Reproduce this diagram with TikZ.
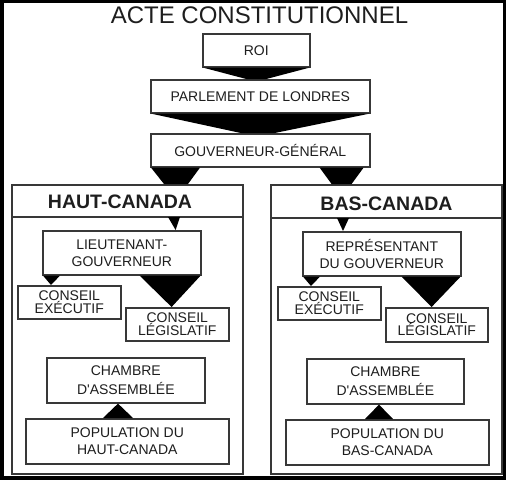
\documentclass[tikz,border=0pt]{standalone}
\usepackage{fontspec}
\setmainfont{Liberation Sans}
\usetikzlibrary{calc}
\definecolor{linec}{HTML}{383838}
\definecolor{txtc}{HTML}{1E1E1E}
\begin{document}
\begin{tikzpicture}[x=1pt,y=-1pt,
 box/.style={draw=linec, line width=1.6pt, fill=white, inner sep=0pt, align=center, text=txtc, font=\fontsize{14}{17}\selectfont, anchor=north west},
 tight/.style={font=\fontsize{14}{12.5}\selectfont},
 loose/.style={font=\fontsize{14}{19}\selectfont},
 tri/.style={fill=black},
 frame/.style={draw=linec, line width=1.6pt, anchor=north west, inner sep=0pt},
 divline/.style={draw=linec, line width=1.6pt},
 head/.style={text=txtc, font=\bfseries\fontsize{19.5}{22}\selectfont},
]
\useasboundingbox (0,0) rectangle (506,480);
\fill[black] (0,0) rectangle (506,480);
\fill[white] (4,3) rectangle (503,476);

\node[text=txtc, font=\fontsize{24}{28}\selectfont] (title) at (259.5,15.5) {ACTE CONSTITUTIONNEL};

\node[box, minimum width=107, minimum height=33] (roi) at (202,33) {ROI};
\node[box, minimum width=219, minimum height=33] (parl) at (150,79) {PARLEMENT DE LONDRES};
\node[box, minimum width=219, minimum height=33] (gg) at (150,133) {GOUVERNEUR-GÉNÉRAL};

% Haut-Canada
\node[frame, minimum width=231, minimum height=289] (hc) at (11,184) {};
\coordinate (hcdl) at (11,217);
\coordinate (hcdr) at (242,217);
\draw[divline] (hcdl) -- (hcdr);
\node[head] (hct) at (120,201.5) {HAUT-CANADA};

\node[box, minimum width=158, minimum height=44] (lt) at (42,230) {LIEUTENANT-\\GOUVERNEUR};
\node[box, tight, minimum width=103, minimum height=33] (ce) at (17,285) {CONSEIL\\EXÉCUTIF};
\node[box, tight, minimum width=103, minimum height=33] (cl) at (125,307) {CONSEIL\\LÉGISLATIF};
\node[box, loose, minimum width=158, minimum height=45] (ch) at (46,357) {CHAMBRE\\D\textquotesingle ASSEMBLÉE};
\node[box, minimum width=203, minimum height=45] (pop) at (25,418) {POPULATION DU\\HAUT-CANADA};

% Bas-Canada
\node[frame, minimum width=231, minimum height=289] (bc) at (270,184) {};
\coordinate (bcdl) at (270,218);
\coordinate (bcdr) at (501,218);
\draw[divline] (bcdl) -- (bcdr);
\node[head] (bct) at (386.5,203.5) {BAS-CANADA};

\node[box, minimum width=158, minimum height=44] (rep) at (302,231) {REPRÉSENTANT\\DU GOUVERNEUR};
\node[box, tight, minimum width=103, minimum height=33] (ce2) at (277,286) {CONSEIL\\EXÉCUTIF};
\node[box, tight, minimum width=102, minimum height=34] (cl2) at (385,307) {CONSEIL\\LÉGISLATIF};
\node[box, loose, minimum width=157, minimum height=45] (ch2) at (306,358) {CHAMBRE\\D\textquotesingle ASSEMBLÉE};
\node[box, minimum width=203, minimum height=45] (pop2) at (285,419) {POPULATION DU\\BAS-CANADA};

% funnels / arrows
\fill[tri] ($(roi.south west)+(1,0)$) -- ($(roi.south east)+(-1,0)$) -- ($(roi.south |- parl.north)+(10,0)$) -- ($(roi.south |- parl.north)+(-10,0)$) -- cycle;
\fill[tri] ($(parl.south west)+(1,0)$) -- ($(parl.south east)+(-1,0)$) -- ($(gg.north)+(14.5,0)$) -- ($(gg.north)+(-19.5,0)$) -- cycle;
\fill[tri] ($(gg.south west)+(1,0)$) -- ($(gg.south west)+(50,0)$) -- ($(gg.south west |- hc.north)+(38,0)$) -- ($(gg.south west |- hc.north)+(14,0)$) -- cycle;
\fill[tri] ($(gg.south east)+(-51,0)$) -- ($(gg.south east)+(-7,0)$) -- ($(gg.south east |- bc.north)+(-19,0)$) -- ($(gg.south east |- bc.north)+(-39,0)$) -- cycle;

\fill[tri] ($(hcdr)+(-74,0)$) -- ($(hcdr)+(-62,0)$) -- ($(lt.north east)+(-26,0)$) -- cycle;
\fill[tri] ($(bcdl)+(67,0)$) -- ($(bcdl)+(79,0)$) -- ($(rep.north west)+(41,0)$) -- cycle;

\fill[tri] ($(lt.south west)+(1,0)$) -- ($(lt.south west)+(18,0)$) -- ($(lt.south west |- ce.north)+(9,0)$) -- cycle;
\fill[tri] ($(lt.south east)+(-62,0)$) -- ($(lt.south east)+(-1,0)$) -- ($(lt.south east |- cl.north)+(-30,0)$) -- cycle;
\fill[tri] ($(rep.south west)+(1,0)$) -- ($(rep.south west)+(18,0)$) -- ($(rep.south west |- ce2.north)+(9,0)$) -- cycle;
\fill[tri] ($(rep.south east)+(-60,0)$) -- ($(rep.south east)+(-1,0)$) -- ($(rep.south east |- cl2.north)+(-30,0)$) -- cycle;

\fill[tri] ($(pop.north west)+(78,0)$) -- ($(pop.north west)+(108,0)$) -- ($(pop.north west |- ch.south)+(93,0)$) -- cycle;
\fill[tri] ($(pop2.north west)+(80,0)$) -- ($(pop2.north west)+(108,0)$) -- ($(pop2.north west |- ch2.south)+(94,0)$) -- cycle;
\end{tikzpicture}
\end{document}
